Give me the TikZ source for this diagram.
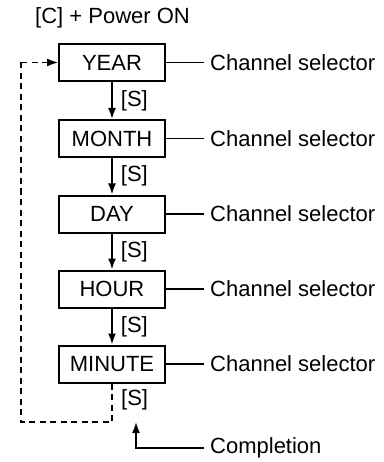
\documentclass[tikz,border=0pt]{standalone}
\usepackage{fontspec}
\setmainfont{Liberation Sans}
\usetikzlibrary{arrows.meta,positioning}
\begin{document}
\begin{tikzpicture}[x=1pt,y=-1pt,
  every node/.style={font=\fontsize{22}{26}\selectfont},
  stepbox/.style={draw,line width=2pt,minimum width=106pt,minimum height=37pt,inner sep=0pt},
  lbl/.style={anchor=west,inner sep=0pt},
  flow/.style={line width=1.8pt,-{Latex[length=11pt,width=8pt]}},
  plain/.style={line width=1.8pt},
  loop/.style={line width=1.5pt,dash pattern=on 6pt off 4.5pt}]
\useasboundingbox (0,0) rectangle (383,462);
\node[lbl] (power) at (35,18) {[C] + Power ON};
\node[stepbox] (year) at (112,62.5) {YEAR};
\node[stepbox] (month) at (112,138.5) {MONTH};
\node[stepbox] (day) at (112,214) {DAY};
\node[stepbox] (hour) at (112,289) {HOUR};
\node[stepbox] (minute) at (112,364) {MINUTE};
\foreach \n in {year,month,day,hour,minute}{
  \node[lbl] (cs\n) at ([xshift=44pt]\n.east) {Channel selector};
  \draw[plain] (\n.east) -- ([xshift=-6pt]cs\n.west);
}
\draw[flow] (year) -- node[lbl,right=8pt] (s1) {[S]} (month);
\draw[flow] (month) -- node[lbl,right=8pt] (s2) {[S]} (day);
\draw[flow] (day) -- node[lbl,right=8pt] (s3) {[S]} (hour);
\draw[flow] (hour) -- node[lbl,right=8pt] (s4) {[S]} (minute);
\node[lbl] (s5) at (121,400) {[S]};
\coordinate (lb) at (112,422);
\coordinate (ll) at (21,422);
\coordinate (lt) at (21,62.5);
\draw[loop] (minute.south) -- (lb) -- (ll) -- (lt);
\draw[loop,-{Latex[length=11pt,width=8pt]}] (lt) -- (year.west);
\coordinate (cb) at (136,448);
\coordinate (ct) at (136,422);
\node[lbl] (comp) at (210,448) {Completion};
\draw[plain,-{Latex[length=11pt,width=8pt]}] ([xshift=-6pt]comp.west) -- (cb) -- (ct);
\end{tikzpicture}
\end{document}
